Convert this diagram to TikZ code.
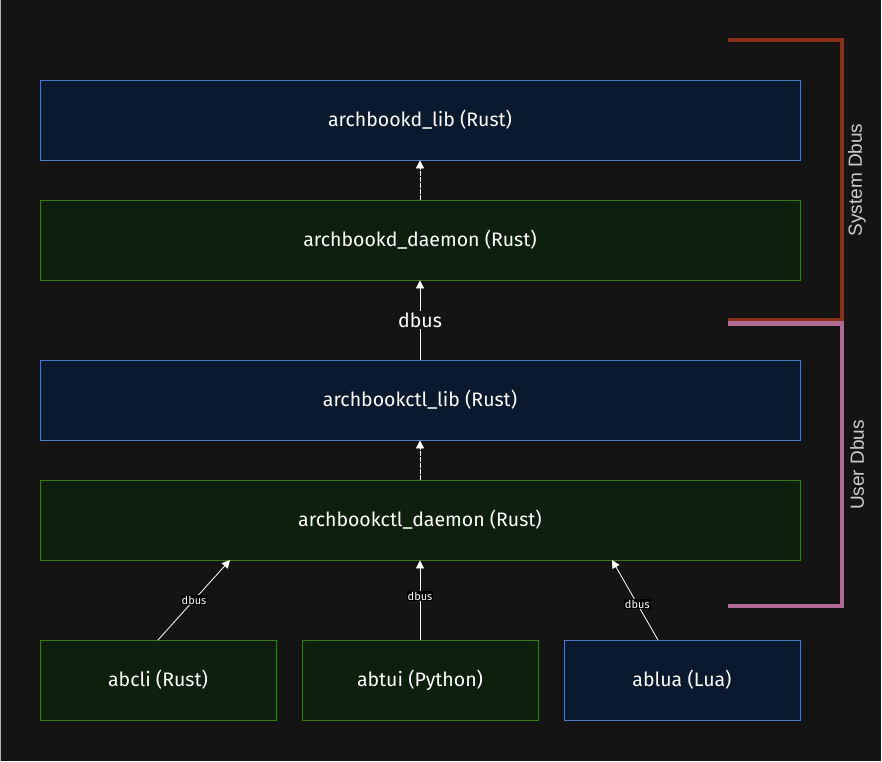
\documentclass[tikz,border=0pt]{standalone}
\usepackage{fontspec}
\setmainfont{Fira Sans}
\newfontfamily\arialfont{Liberation Sans}
\usetikzlibrary{arrows.meta}
\definecolor{bgc}{HTML}{141414}
\definecolor{bluefill}{HTML}{0A192E}
\definecolor{blueline}{HTML}{4A7AC4}
\definecolor{greenfill}{HTML}{0F1F0E}
\definecolor{greenline}{HTML}{3A7A1A}
\definecolor{sysc}{HTML}{8A3119}
\definecolor{userc}{HTML}{B06A94}
\definecolor{labc}{HTML}{CCCCCC}
\tikzset{
  box/.style={draw, line width=0.8pt, minimum height=80pt, text=white, font=\fontsize{19.5}{22}\selectfont, inner sep=0pt},
  bluebox/.style={box, draw=blueline, fill=bluefill},
  greenbox/.style={box, draw=greenline, fill=greenfill},
  wide/.style={minimum width=760pt},
  narrow/.style={minimum width=236pt},
  conn/.style={draw=white, line width=0.8pt, -{Triangle[open, fill=white, length=8pt, width=8pt]}},
  dashconn/.style={conn, dash pattern=on 5pt off 1pt},
  smalllab/.style={fill=black, text=white, font=\fontsize{11}{12}\selectfont, inner sep=1pt},
  biglab/.style={fill=bgc, text=white, font=\fontsize{19.5}{22}\selectfont, inner sep=2pt},
  bracket/.style={line width=4.5pt},
  sidelab/.style={text=labc, font=\arialfont\fontsize{19}{22}\selectfont, rotate=90}
}
\begin{document}
\begin{tikzpicture}[x=1pt, y=-1pt]
\fill[bgc] (0,0) rectangle (882,761);
\useasboundingbox (0,0) rectangle (882,761);
\draw[gray!60, line width=0.8pt] (0.4,0) -- (0.4,761);
\draw[white!85, line width=1pt] (881.5,0) -- (881.5,761);

\node[bluebox, wide] (lib) at (420,120) {archbookd\_lib (Rust)};
\node[greenbox, wide] (daemon) at (420,240) {archbookd\_daemon (Rust)};
\node[bluebox, wide] (ctllib) at (420,400) {archbookctl\_lib (Rust)};
\node[greenbox, wide] (ctldaemon) at (420,520) {archbookctl\_daemon (Rust)};
\node[greenbox, narrow] (abcli) at (158,680) {abcli (Rust)};
\node[greenbox, narrow] (abtui) at (420,680) {abtui (Python)};
\node[bluebox, narrow] (ablua) at (682,680) {ablua (Lua)};

\coordinate (c1) at (158,640);
\coordinate (c2) at (230,560);
\coordinate (u1) at (658,640);
\coordinate (u2) at (612,560);

\draw[dashconn] (daemon.north) -- (lib.south);
\draw[conn] (ctllib.north) -- node[biglab, pos=0.5] (dbusmid) {dbus} (daemon.south);
\draw[dashconn] (ctldaemon.north) -- (ctllib.south);
\draw[conn] (c1) -- node[smalllab, pos=0.5] (l1) {dbus} (c2);
\draw[conn] (abtui.north) -- node[smalllab, pos=0.55] (l2) {dbus} (ctldaemon.south);
\draw[conn] (u1) -- node[smalllab, pos=0.45] (l3) {dbus} (u2);

\coordinate (s1) at (728,40);
\coordinate (s2) at (842,40);
\coordinate (s3) at (842,320);
\coordinate (s4) at (728,320);
\draw[bracket, draw=sysc] (s1) -- (s2) -- (s3) -- (s4);
\coordinate (p1) at (728,323.5);
\coordinate (p2) at (842,323.5);
\coordinate (p3) at (842,606);
\coordinate (p4) at (728,606);
\draw[bracket, draw=userc] (p1) -- (p2) -- (p3) -- (p4);

\node[sidelab] (syslab) at (857,180) {System Dbus};
\node[sidelab] (userlab) at (857,465) {User Dbus};
\end{tikzpicture}
\end{document}
